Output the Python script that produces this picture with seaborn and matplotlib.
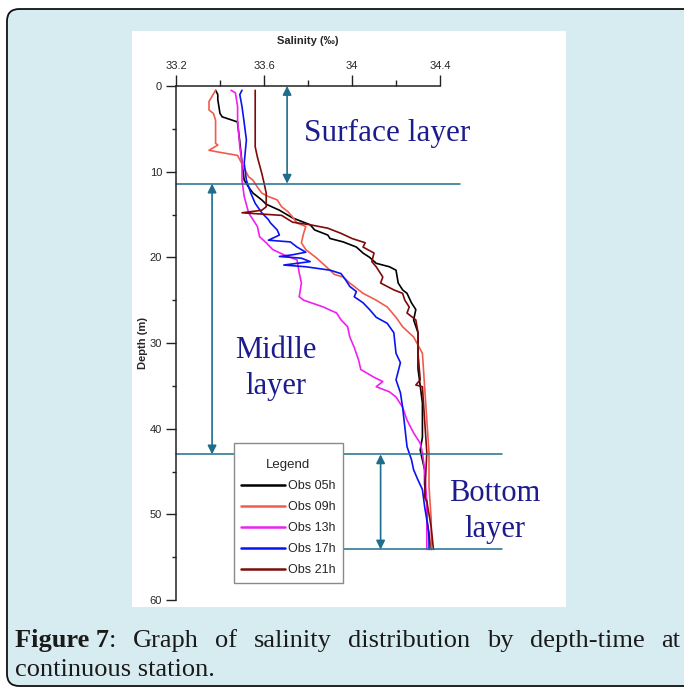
import matplotlib
matplotlib.use("Agg")
import matplotlib.pyplot as plt
import numpy as np
import pandas as pd
import seaborn as sns
from matplotlib import font_manager
from matplotlib.patches import FancyBboxPatch, Rectangle

# ---- data (salinity in permil, depth in m) ----
depth_05h = [0.5, 1.0, 1.6, 3.2, 3.6, 4.2, 4.4, 6.5, 9.0, 11.0, 11.8, 12.5, 13.3, 13.8,
             14.5, 15.4, 16.2, 16.8, 17.4, 17.8, 18.2, 18.8, 19.5, 20.0, 20.7, 21.1,
             21.5, 23.0, 23.8, 24.2, 25.3, 26.1, 27.3, 28.8, 31.0, 33.0, 35.0, 37.0,
             39.0, 41.0, 42.5, 44.8, 46.5, 48.7, 50.5, 52.6, 54.1]
sal_05h = [33.38, 33.39, 33.39, 33.40, 33.41, 33.48, 33.48, 33.49, 33.50, 33.51, 33.53,
           33.55, 33.59, 33.61, 33.67, 33.73, 33.81, 33.83, 33.89, 33.90, 33.96, 34.02,
           34.05, 34.08, 34.11, 34.17, 34.20, 34.21, 34.23, 34.25, 34.27, 34.29, 34.28,
           34.30, 34.30, 34.30, 34.31, 34.32, 34.32, 34.32, 34.31, 34.33, 34.33, 34.34,
           34.34, 34.35, 34.36]

depth_09h = [0.5, 1.8, 2.8, 3.2, 4.0, 6.7, 6.9, 7.5, 7.7, 8.1, 8.6, 9.6, 10.6, 11.0,
             11.8, 12.5, 12.9, 13.3, 14.1, 14.7, 15.3, 16.0, 16.4, 17.2, 18.3, 19.1,
             20.1, 21.5, 22.0, 22.3, 23.0, 24.2, 25.0, 25.8, 27.0, 28.1, 29.3, 31.2,
             35.1, 39.0, 42.8, 46.8, 50.6, 54.1]
sal_09h = [33.38, 33.35, 33.35, 33.37, 33.38, 33.38, 33.39, 33.35, 33.39, 33.48, 33.49,
           33.51, 33.53, 33.55, 33.57, 33.59, 33.62, 33.66, 33.68, 33.71, 33.73, 33.75,
           33.79, 33.78, 33.77, 33.79, 33.84, 33.90, 33.92, 33.96, 33.99, 34.05, 34.11,
           34.16, 34.20, 34.23, 34.28, 34.32, 34.33, 34.34, 34.35, 34.35, 34.36, 34.36]

depth_13h = [0.5, 0.8, 2.4, 4.0, 7.1, 9.0, 11.0, 12.9, 14.8, 15.6, 16.4, 17.6, 18.3,
             19.1, 19.7, 20.3, 21.8, 23.0, 24.6, 25.0, 25.8, 26.5, 27.3, 28.1, 29.3,
             30.5, 32.0, 33.1, 34.0, 34.5, 35.1, 35.7, 36.3, 37.5, 39.0, 40.5, 41.7,
             42.8, 44.8, 48.7, 54.1]
sal_13h = [33.45, 33.47, 33.48, 33.48, 33.49, 33.50, 33.50, 33.51, 33.53, 33.55, 33.57,
           33.58, 33.61, 33.64, 33.69, 33.75, 33.76, 33.77, 33.76, 33.78, 33.87, 33.93,
           33.95, 33.98, 33.99, 34.01, 34.03, 34.04, 34.10, 34.14, 34.11, 34.17, 34.20,
           34.23, 34.25, 34.28, 34.31, 34.32, 34.33, 34.34, 34.34]

depth_17h = [0.5, 1.0, 2.4, 4.3, 6.3, 9.0, 11.0, 12.5, 13.7, 14.8, 15.6, 16.0, 16.8,
             17.4, 18.0, 18.2, 18.8, 19.4, 19.7, 19.9, 20.1, 20.5, 20.9, 21.1, 21.5,
             21.9, 22.6, 23.4, 24.0, 24.6, 25.3, 26.1, 27.0, 27.7, 28.8, 31.2, 32.3,
             34.3, 35.8, 37.5, 39.8, 42.1, 43.6, 44.8, 46.0, 47.1, 49.1, 52.2, 54.1]
sal_17h = [33.50, 33.49, 33.50, 33.51, 33.52, 33.51, 33.52, 33.54, 33.56, 33.59, 33.62,
           33.63, 33.66, 33.67, 33.62, 33.72, 33.75, 33.79, 33.73, 33.67, 33.77, 33.81,
           33.69, 33.79, 33.90, 33.95, 33.97, 33.99, 34.02, 34.01, 34.05, 34.08, 34.11,
           34.16, 34.19, 34.20, 34.22, 34.20, 34.22, 34.23, 34.24, 34.25, 34.27, 34.28,
           34.30, 34.32, 34.33, 34.35, 34.35]

depth_21h = [0.5, 4.0, 7.1, 8.3, 10.2, 11.3, 12.5, 14.1, 14.5, 14.8, 15.1, 15.9, 16.2,
             16.6, 17.2, 17.8, 18.3, 18.8, 19.5, 20.5, 21.1, 22.3, 23.0, 23.8, 24.2,
             25.0, 25.8, 26.5, 27.3, 28.8, 31.2, 34.3, 34.9, 35.1, 39.0, 42.8, 48.0,
             48.5, 51.5, 54.1]
sal_21h = [33.56, 33.56, 33.56, 33.57, 33.59, 33.60, 33.61, 33.61, 33.59, 33.50, 33.68,
           33.73, 33.81, 33.89, 33.95, 34.00, 34.06, 34.05, 34.10, 34.09, 34.11, 34.14,
           34.13, 34.19, 34.23, 34.24, 34.26, 34.25, 34.29, 34.30, 34.30, 34.31, 34.29,
           34.32, 34.33, 34.34, 34.33, 34.34, 34.36, 34.37]

obs_labels = ["Obs 05h", "Obs 09h", "Obs 13h", "Obs 17h", "Obs 21h"]
obs_colors = ["#000000", "#f25b4c", "#f020f0", "#0a14f0", "#7e0a0a"]

layer_bounds = [11.4, 43.0, 54.1]
layer_names = ["Surface layer", "Midlle\nlayer", "Bottom\nlayer"]

x_ticks = [33.2, 33.6, 34.0, 34.4]
x_tick_labels = ["33.2", "33.6", "34", "34.4"]
y_ticks = [0, 10, 20, 30, 40, 50, 60]

caption_bold = "Figure 7"
caption_line1 = ": Graph of salinity distribution by depth-time at"
caption_line2 = "continuous station."

# ---- long-form frame ----
series = [(depth_05h, sal_05h), (depth_09h, sal_09h), (depth_13h, sal_13h),
          (depth_17h, sal_17h), (depth_21h, sal_21h)]
frames = []
for label, (d, s) in zip(obs_labels, series):
    frames.append(pd.DataFrame({"depth": d, "salinity": s, "obs": label}))
df = pd.concat(frames, ignore_index=True)

sns.set_theme(style="ticks")
plt.rcParams["font.family"] = ["Liberation Sans", "DejaVu Sans"]

names = {f.name for f in font_manager.fontManager.ttflist}
legend_font = "Liberation Sans Narrow" if "Liberation Sans Narrow" in names else "Liberation Sans"

W, H = 684, 688
fig = plt.figure(figsize=(W / 100, H / 100), dpi=100, facecolor="white")

# outer rounded panel + white chart area
fig.patches.append(FancyBboxPatch((0.0102, 0.0029), 1.05, 0.984,
                                  boxstyle="round,pad=0,rounding_size=0.018",
                                  transform=fig.transFigure, facecolor="#d7ecf1",
                                  edgecolor="#111111", linewidth=1.3, zorder=-2))
fig.patches.append(Rectangle((0.193, 0.1177), 0.6345, 0.8372, transform=fig.transFigure,
                             facecolor="white", edgecolor="none", zorder=-1))

ax = fig.add_axes([0.2573, 0.1279, 0.386, 0.7471])
ax.set_facecolor("none")
ax.set_zorder(2)

sns.lineplot(data=df, x="salinity", y="depth", hue="obs", palette=obs_colors,
             hue_order=obs_labels, sort=False, estimator=None, orient="y",
             linewidth=1.2, ax=ax, legend=True)

ax.set_xlim(33.2, 34.4)
ax.set_ylim(60, 0)
ax.xaxis.tick_top()
ax.xaxis.set_label_position("top")
ax.set_xticks(x_ticks)
ax.set_xticklabels(x_tick_labels)
ax.set_xticks([33.4, 33.8, 34.2], minor=True)
ax.set_yticks(y_ticks)
ax.set_yticks([5, 15, 25, 35, 45, 55], minor=True)
for side in ["right", "bottom"]:
    ax.spines[side].set_visible(False)
for side in ["left", "top"]:
    ax.spines[side].set_linewidth(1.1)
    ax.spines[side].set_color("#222222")
ax.tick_params(axis="x", which="major", length=8, width=1, pad=3, labelsize=8, color="#222222")
ax.tick_params(axis="x", which="minor", length=4.3, width=1, color="#222222")
ax.tick_params(axis="y", which="major", length=7, width=1, pad=3, labelsize=8, color="#222222")
ax.tick_params(axis="y", which="minor", length=3.2, width=1, color="#222222")
ax.set_xlabel("Salinity (‰)", fontsize=8, fontweight="bold", labelpad=12)
ax.set_ylabel("Depth (m)", fontsize=8, fontweight="bold", labelpad=1)

# legend (leading blank line in the title gives the extra top padding)
leg = ax.legend(title="\nLegend", loc="upper left", bbox_to_anchor=(0.2197, 0.3054),
                borderaxespad=0, frameon=True, fancybox=False, framealpha=1,
                edgecolor="#8a8a8a", handlelength=3.5, handletextpad=0.3,
                labelspacing=0.72, borderpad=0.55,
                prop={"family": legend_font, "size": 9},
                title_fontproperties={"family": legend_font, "size": 9.5})
leg.get_title().set_linespacing(0.7)
leg.get_frame().set_linewidth(1.0)
for h in leg.get_lines():
    h.set_linewidth(1.8)

# layer boundaries and arrows
teal = "#1f6d8c"
ax.plot([33.2, 34.49], [layer_bounds[0]] * 2, color=teal, lw=1.1, clip_on=False)
ax.plot([33.2, 34.68], [layer_bounds[1]] * 2, color=teal, lw=1.1, clip_on=False)
ax.plot([33.93, 34.68], [layer_bounds[2]] * 2, color=teal, lw=1.1, clip_on=False)

arrow_kw = dict(arrowstyle="<|-|>", color=teal, lw=1.2, mutation_scale=13,
                shrinkA=0, shrinkB=0)
ax.annotate("", xy=(33.705, 0), xytext=(33.705, layer_bounds[0]),
            arrowprops=arrow_kw, annotation_clip=False)
ax.annotate("", xy=(33.364, layer_bounds[0]), xytext=(33.364, layer_bounds[1]),
            arrowprops=arrow_kw, annotation_clip=False)
ax.annotate("", xy=(34.13, layer_bounds[1]), xytext=(34.13, layer_bounds[2]),
            arrowprops=arrow_kw, annotation_clip=False)

serif = ["Liberation Serif", "DejaVu Serif"]
navy = "#1c1c8c"
ax.text(34.16, 5.5, layer_names[0], ha="center", va="center", fontsize=22.5,
        family=serif, color=navy, clip_on=False)
ax.text(33.655, 33.0, layer_names[1], ha="center", va="center", fontsize=22,
        family=serif, color=navy, linespacing=1.32, clip_on=False)
ax.text(34.65, 49.65, layer_names[2], ha="center", va="center", fontsize=22,
        family=serif, color=navy, linespacing=1.32, clip_on=False)

# caption: first line justified between x=15 and x=680 px
renderer = fig.canvas.get_renderer()
cap_kw = dict(fontsize=19, family=serif, color="#1a1a1a", va="baseline", ha="left")
words = caption_line1.split()
groups = [[(caption_bold, "bold"), (words[0], "normal")]]
groups += [[(w, "normal")] for w in words[1:]]


def text_width(s, weight):
    t = fig.text(0, 0, s, fontweight=weight, **cap_kw)
    w = t.get_window_extent(renderer).width
    t.remove()
    return w


widths = [[text_width(s, wt) for s, wt in g] for g in groups]
total = sum(sum(w) for w in widths)
gap = (680 - 15 - total) / (len(groups) - 1)
xpos = 15.0
y1 = 1 - 647 / H
for g, ws in zip(groups, widths):
    for (s, wt), w in zip(g, ws):
        fig.text(xpos / W, y1, s, fontweight=wt, **cap_kw)
        xpos += w
    xpos += gap
fig.text(15 / W, 1 - 676 / H, caption_line2, **cap_kw)

fig.savefig("out.png", dpi=100, facecolor=fig.get_facecolor())
